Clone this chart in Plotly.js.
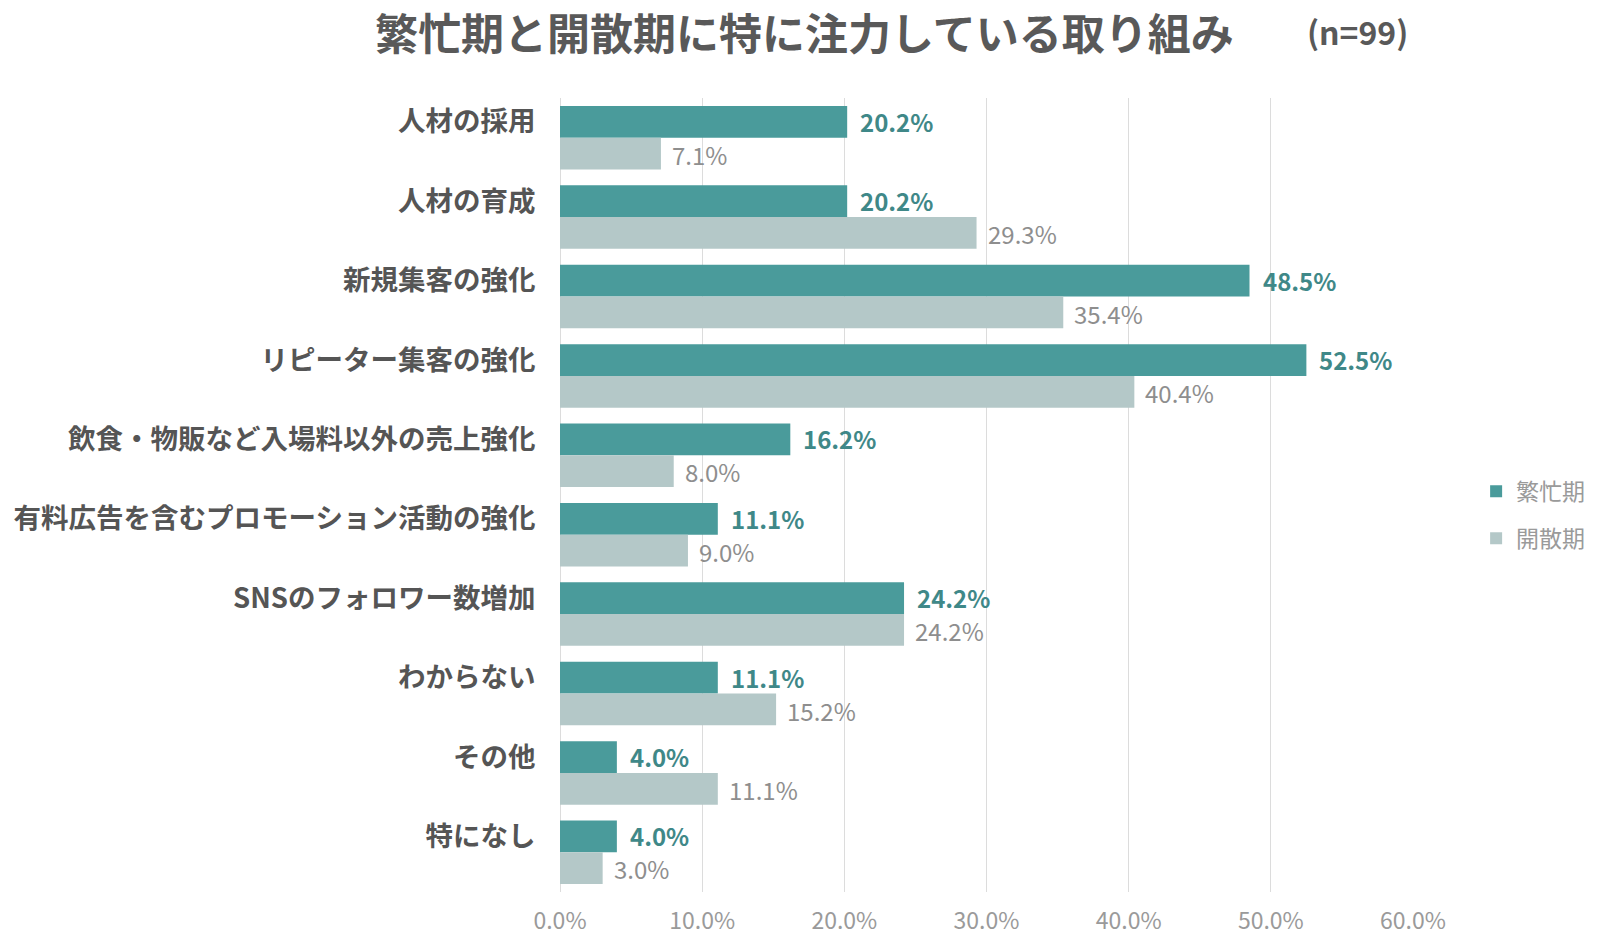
<!DOCTYPE html>
<html>
<head>
<meta charset="utf-8">
<script src="https://cdn.plot.ly/plotly-3.0.1.min.js"></script>
<style>html,body{margin:0;padding:0;background:#fff;}#chart{width:1600px;height:940px;}</style>
</head>
<body>
<div id="chart"></div>
<script>
const categories = [
  "人材の採用",
  "人材の育成",
  "新規集客の強化",
  "リピーター集客の強化",
  "飲食・物販など入場料以外の売上強化",
  "有料広告を含むプロモーション活動の強化",
  "SNSのフォロワー数増加",
  "わからない",
  "その他",
  "特になし"
];
const busySeason = [20.2, 20.2, 48.5, 52.5, 16.2, 11.1, 24.2, 11.1, 4.0, 4.0];
const offSeason  = [7.1, 29.3, 35.4, 40.4, 8.0, 9.0, 24.2, 15.2, 11.1, 3.0];
const seriesNames = ["繁忙期", "開散期"];
const xTicks = [0, 10, 20, 30, 40, 50, 60];

const FONT = '"Noto Sans CJK JP", "Noto Sans", sans-serif';
const TEAL = '#4a9b9b';
const GRAY = '#b4c8c8';

const traces = [
  {
    type: 'bar', orientation: 'h', name: seriesNames[0],
    y: categories, x: busySeason, marker: {color: TEAL},
    legendgroup: 'a', hoverinfo: 'x+y'
  },
  {
    type: 'bar', orientation: 'h', name: seriesNames[1],
    y: categories, x: offSeason, marker: {color: GRAY},
    legendgroup: 'b', hoverinfo: 'x+y'
  }
];

const annotations = [];
categories.forEach((c, i) => {
  annotations.push({
    x: busySeason[i], y: c, xref: 'x', yref: 'y',
    text: busySeason[i].toFixed(1) + '%', showarrow: false,
    xanchor: 'left', xshift: 12, yshift: 16.5, borderpad: 0,
    font: {family: FONT, size: 24, color: '#3f8888', weight: 'bold'}
  });
  annotations.push({
    x: offSeason[i], y: c, xref: 'x', yref: 'y',
    text: offSeason[i].toFixed(1) + '%', showarrow: false,
    xanchor: 'left', xshift: 10, yshift: -16.5, borderpad: 0,
    font: {family: FONT, size: 24, color: '#8e8e8e'}
  });
});
annotations.push({
  xref: 'paper', yref: 'paper', x: 0.287, y: 1.085, xanchor: 'center', yanchor: 'middle',
  text: '繁忙期と開散期に特に注力している取り組み', showarrow: false,
  font: {family: FONT, size: 43, color: '#595959', weight: 'bold'}
});
annotations.push({
  xref: 'paper', yref: 'paper', x: 0.935, y: 1.085, xanchor: 'center', yanchor: 'middle',
  text: '(n=99)', showarrow: false,
  font: {family: FONT, size: 32, color: '#595959', weight: 'bold'}
});

const layout = {
  width: 1600, height: 940,
  margin: {l: 560, r: 187, t: 98, b: 48, autoexpand: false},
  paper_bgcolor: '#ffffff', plot_bgcolor: '#ffffff',
  barmode: 'group', bargap: 0.2, bargroupgap: 0,
  font: {family: FONT},
  showlegend: true,
  legend: {
    x: 1.074, y: 0.475, xanchor: 'left', yanchor: 'middle',
    font: {family: FONT, size: 23, color: '#9a9a9a'},
    traceorder: 'grouped', tracegroupgap: 14, itemwidth: 30
  },
  xaxis: {
    range: [0, 60], tickvals: xTicks, ticktext: xTicks.map(v => v.toFixed(1) + '%'),
    showgrid: true, gridcolor: '#dcdcdc', gridwidth: 1,
    zeroline: true, zerolinecolor: '#dcdcdc', zerolinewidth: 1,
    showline: false,
    ticks: 'outside', ticklen: 8, tickcolor: 'rgba(0,0,0,0)',
    tickfont: {family: FONT, size: 23, color: '#9a9a9a'}
  },
  yaxis: {
    autorange: 'reversed', type: 'category',
    showgrid: false, zeroline: false, showline: false,
    ticks: 'outside', ticklen: 18, tickcolor: 'rgba(0,0,0,0)',
    ticklabelshift: 16,
    tickfont: {family: FONT, size: 27.5, color: '#555555', weight: 'bold'}
  },
  annotations: annotations
};

Plotly.newPlot('chart', traces, layout, {displayModeBar: false, responsive: false});
</script>
</body>
</html>
